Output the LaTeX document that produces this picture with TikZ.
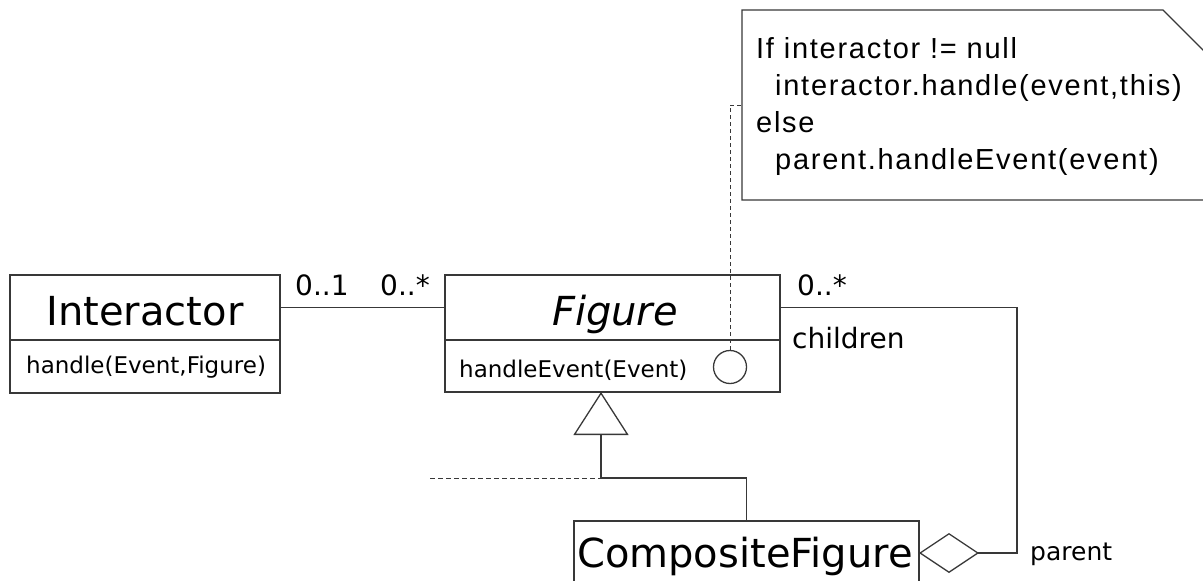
\documentclass[tikz,border=0pt]{standalone}
\usepackage{fontspec}
\setmainfont{DejaVu Sans}
\newfontfamily\notefont[LetterSpace=6]{Liberation Sans}
\usetikzlibrary{arrows.meta}
\begin{document}
\begin{tikzpicture}[x=1pt,y=-1pt,
  ln/.style={draw=black!78, line width=1.3pt},
  box/.style={ln, rectangle, inner sep=0pt, outer sep=0pt},
  clsname/.style={inner sep=0pt, font=\fontsize{40}{48}\selectfont},
  optext/.style={inner sep=0pt, font=\fontsize{23}{28}\selectfont},
  lbl/.style={inner sep=0pt, font=\fontsize{28}{34}\selectfont},
  notetext/.style={inner sep=0pt, anchor=base west, font=\notefont\fontsize{29}{35}\selectfont},
]
\useasboundingbox (0,0) rectangle (1203,581);
\clip (0,0) rectangle (1203,581);

% Interactor class
\node[box, minimum width=270pt, minimum height=65pt] (int) at (145,307.5) {};
\node[box, minimum width=270pt, minimum height=53pt, anchor=north] (intop) at (int.south) {};
\node[clsname, anchor=base] (intname) at (145,325) {Interactor};
\node[optext, anchor=base west] (intoptext) at (26,373) {handle(Event,Figure)};

% Figure class
\node[box, minimum width=335pt, minimum height=65pt] (fig) at (612.5,307.5) {};
\node[box, minimum width=335pt, minimum height=52pt, anchor=north] (figop) at (fig.south) {};
\node[clsname, anchor=base, font=\fontsize{40}{48}\selectfont\itshape] (figname) at (615,325) {Figure};
\node[optext, anchor=base west] (figoptext) at (459,377) {handleEvent(Event)};
\node[ln, circle, minimum size=33pt, inner sep=0pt] (circ) at (730,367) {};

% CompositeFigure class
\node[box, minimum width=345pt, minimum height=64pt] (cf) at (746.5,553) {};
\node[clsname, anchor=base] (cfname) at (745,567) {CompositeFigure};

% Note
\draw[ln, fill=white] (742,10) -- (1163,10) -- (1212,59) -- (1212,200) -- (742,200) -- cycle;
\coordinate (notew) at (742,105);
\node[notetext] (n1) at (756,58) {If interactor != null};
\node[notetext] (n2) at (775,95) {interactor.handle(event,this)};
\node[notetext] (n3) at (756,132) {else};
\node[notetext] (n4) at (775,169) {parent.handleEvent(event)};

% note anchor (dashed)
\draw[draw=black!78, line width=1pt, dash pattern=on 4pt off 3pt] (circ.north) |- (notew);

% association Interactor -- Figure
\draw[ln] (int.east) -- (fig.west);
\node[lbl, anchor=base west] (m1) at (295,295) {0..1};
\node[lbl, anchor=base west] (m2) at (380,295) {0..*};

% aggregation children/parent
\coordinate (aggc) at (1017,553);
\draw[ln, -{Diamond[open, length=60pt, width=40pt]}] (fig.east) -| (aggc) -- (cf.east);
\node[lbl, anchor=base west] (m3) at (797,295) {0..*};
\node[lbl, anchor=base west] (lchildren) at (792,348) {children};
\node[lbl, anchor=base west, font=\fontsize{25}{30}\selectfont] (lparent) at (1030,560) {parent};

% generalization
\coordinate (gen) at (601,478);
\coordinate (dashend) at (430,478);
\draw[ln, -{Triangle[open, length=43pt, width=55pt]}] (cf.north) |- (gen) -- (gen |- figop.south);
\draw[draw=black!78, line width=1pt, dash pattern=on 5pt off 3pt] (dashend) -- (gen);
\end{tikzpicture}
\end{document}
